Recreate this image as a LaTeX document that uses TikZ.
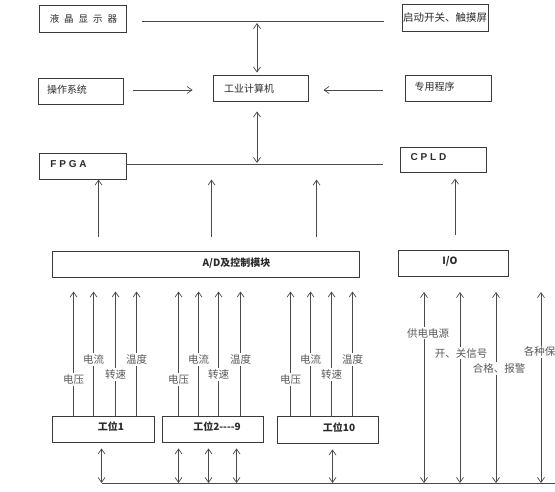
\documentclass[tikz,border=0pt]{standalone}
\usepackage{fontspec}
\setmainfont{Noto Sans CJK SC}
\newfontfamily\latinwide[LetterSpace=28]{Liberation Sans}
\usetikzlibrary{arrows.meta, calc}
\definecolor{cline}{HTML}{4A4A4A}
\definecolor{cbox}{HTML}{3A3A3A}
\definecolor{ctext}{HTML}{2B2B2B}
\definecolor{clabel}{HTML}{5A5A5A}
\newcommand{\cgap}{\hspace{5pt}}
\tikzset{
  every picture/.style={line width=0.7pt},
  box/.style={draw=cbox, fill=white, line width=0.9pt, minimum width=#1, minimum height=26pt, inner sep=0pt},
  btxt/.style={text=ctext, font=\fontsize{10}{12}\selectfont, inner sep=0pt},
  bold/.style={btxt, font=\fontsize{10}{12}\selectfont\bfseries},
  wide/.style={btxt, font=\latinwide\bfseries\fontsize{10}{12}\selectfont},
  wire/.style={draw=cline, line width=0.7pt},
  arr/.style={wire, -{Straight Barb[length=5pt, width=7pt]}},
  biarr/.style={wire, {Straight Barb[length=5pt, width=7pt]}-{Straight Barb[length=5pt, width=7pt]}},
  sig/.style={fill=white, text=clabel, font=\fontsize{10.5}{12}\selectfont, inner sep=1.5pt},
}

\begin{document}
\begin{tikzpicture}[x=1pt, y=-1pt]
  \useasboundingbox (0,0) rectangle (555,491);
  % boxes
  \node[box=87pt, minimum height=27pt, label={[btxt, font=\fontsize{9.5}{11}\selectfont, xshift=1pt]center:液\cgap 晶\cgap 显\cgap 示\cgap 器}] (lcd) at (82.5,18.5) {};
  \node[box=86pt, minimum height=27pt, label={[btxt, font=\fontsize{10.5}{12}\selectfont]center:启动开关、触摸屏}] (touch) at (445,17.5) {};
  \node[box=85pt, label={[btxt, xshift=-13.5pt, yshift=1pt]center:操作系统}] (os) at (80.5,91) {};
  \node[box=95pt, label={[btxt, xshift=-11.5pt, yshift=-1pt]center:工业计算机}] (pc) at (260.5,88) {};
  \node[box=86pt, label={[btxt, xshift=-13.5pt, yshift=1pt]center:专用程序}] (prog) at (448,88) {};
  \node[box=87pt, label={[wide, xshift=-14pt, yshift=2pt]center:FPGA}] (fpga) at (82.5,166) {};
  \node[box=86pt, minimum height=25pt, label={[wide, xshift=-14.5pt, yshift=2.5pt]center:CPLD}] (cpld) at (443,159.5) {};
  \node[box=307pt, label={[bold, xshift=31pt, yshift=1pt]center:A/D及控制模块}] (ad) at (205.5,264) {};
  \node[box=110pt, label={[bold, xshift=-3pt, yshift=2pt]center:I/O}] (io) at (453,263) {};
  \node[box=102pt, label={[bold, xshift=8pt, yshift=2pt]center:工位1}] (st1) at (103,429) {};
  \node[box=101pt, label={[bold, xshift=4.5pt, yshift=2pt]center:工位2-{}-{}-{}-9}] (st2) at (212.5,429) {};
  \node[box=101pt, minimum height=27pt, label={[bold, xshift=11.5pt, yshift=2pt]center:工位10}] (st10) at (327.5,429.5) {};

  % display bus and computer
  \coordinate (lcdL) at (142,21);
  \coordinate (lcdR) at (384,21);
  \coordinate (lcdM) at (257,21);
  \draw[wire] (lcdL) -- (lcdR);
  \draw[biarr] ([yshift=-2pt]lcdM) -- ([yshift=2pt]lcdM |- pc.north);
  \draw[arr] ([shift={(10pt,1pt)}]os.east) coordinate (a) -- ([xshift=-20pt]pc.west |- a);
  \draw[arr] ([shift={(-22pt,-2pt)}]prog.west) coordinate (b) -- ([xshift=15pt]pc.east |- b);

  % FPGA bus
  \coordinate (fpgaM) at (257,164);
  \coordinate (fpgaR) at (383,164);
  \draw[wire] (fpga.east |- fpgaM) -- (fpgaR);
  \draw[biarr] ([yshift=-10pt]pc.south -| fpgaM) -- ([yshift=1pt]fpgaM);
  \foreach \o in {47,160,265}
    \draw[arr] ($(ad.north west)+(\o,-14)$) -- ++(0,-57);
  \draw[arr] ($(io.north)+(2,-15)$) -- ++(0,-56);

  % station signals
  \foreach \s/\a/\b/\c/\d in {st1/22/42/64/85, st2/17/37/57/79, st10/14/34/55/76} {
    \draw[arr] ($(\s.north west)+(\a,0)$) -- ++(0,-124) node[sig, pos=0.29] {电压};
    \draw[arr] ($(\s.north west)+(\b,0)$) -- ++(0,-124) node[sig, pos=0.45] {电流};
    \draw[arr] ($(\s.north west)+(\c,0)$) -- ++(0,-124) node[sig, pos=0.33] {转速};
    \draw[arr] ($(\s.north west)+(\d,0)$) -- ++(0,-124) node[sig, pos=0.45] {温度};
  }

  % lower bus
  \coordinate (busL) at (102,483);
  \coordinate (busR) at (555,483);
  \draw[wire] (busL) -- (busR);
  \foreach \s/\o in {st1/50, st2/17, st2/47, st2/75, st10/56}
    \draw[biarr] ($(\s.south west)+(\o,6)$) coordinate (t) -- (t |- busL);
  \foreach \x/\p/\dx/\t in {424/0.215/4/供电电源, 460/0.32/1/{开、关信号}, 496/0.40/3/{合格、报警}}
    \draw[biarr] (\x,292) coordinate (s) -- (s |- busL) node[sig, pos=\p, xshift=\dx pt] {\t};
  \draw[biarr] (541,292) coordinate (s) -- (s |- busL) node[sig, pos=0.314, anchor=west, xshift=-19pt] {各种保};
\end{tikzpicture}
\end{document}
